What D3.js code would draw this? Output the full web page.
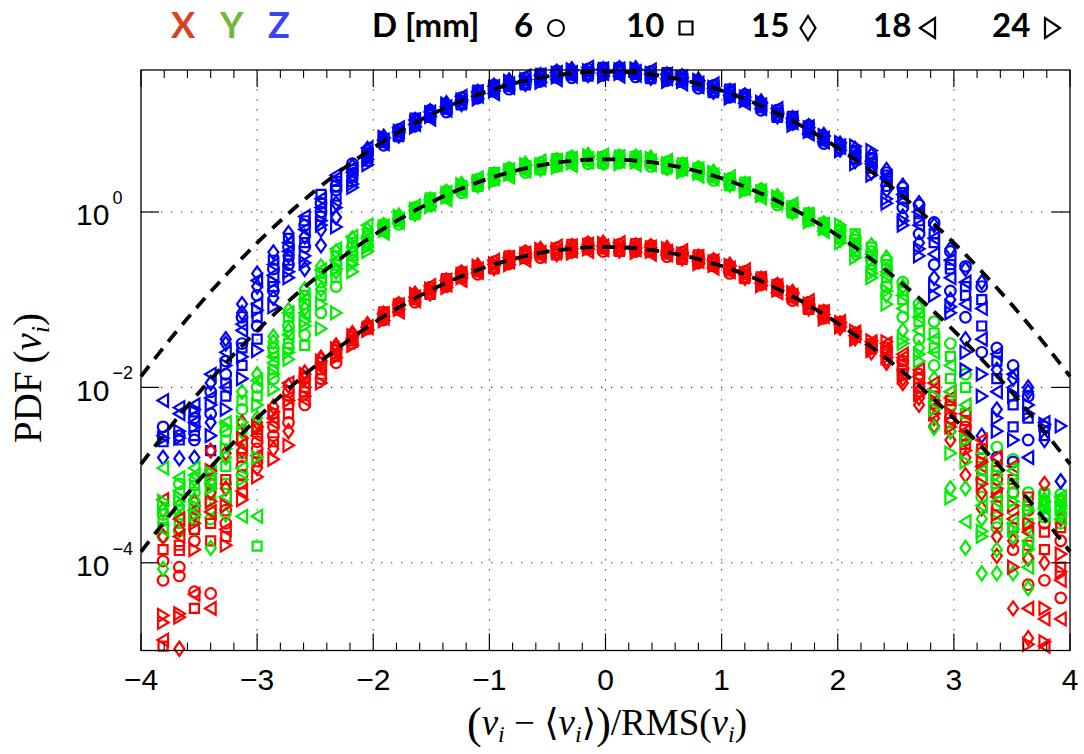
<!DOCTYPE html>
<html><head><meta charset="utf-8">
<script src="https://cdn.jsdelivr.net/npm/d3@7"></script>
<style>
html,body{margin:0;padding:0;background:#fff;}
svg{display:block;}
</style></head><body>
<svg id="chart" width="1084" height="754"></svg>
<script>
// ---------------- DATA ----------------
// normalized velocity (v - <v>)/RMS(v): bin centres
const leftTailBins = [-3.81,-3.67,-3.54,-3.40,-3.27,-3.13,-3.00,-2.86,-2.73,-2.59,-2.45,-2.32,-2.18,-2.05];
const coreBins = [-1.91,-1.78,-1.64,-1.51,-1.37,-1.24,-1.10,-0.96,-0.83,-0.69,-0.56,-0.42,-0.29,-0.15,-0.02,0.12,0.26,0.39,0.53,0.66,0.80,0.93,1.07,1.20,1.34,1.48,1.61,1.75,1.88];
const rightTailBins = [2.02,2.15,2.29,2.42,2.56,2.70,2.83,2.97,3.10,3.24,3.37,3.51,3.64,3.78,3.92];

const components = ["X", "Y", "Z"];
const diameters = [6, 10, 15, 18, 24];          // mm
const componentShift = [1, 10, 100];            // Y and Z curves shifted by one / two decades

// log10 PDF, run A, over all bins (left tail | core | right tail)
const logPdfX_D6  = [-3.98,-4.15,-3.75,-4.35,-3.40,-2.90,-2.70,-2.45,-2.40,-2.20,-1.90,-1.72,-1.50,-1.33, -1.17,-1.10,-0.98,-0.86,-0.79,-0.74,-0.66,-0.57,-0.53,-0.51,-0.47,-0.41,-0.40,-0.41,-0.40,-0.37,-0.39,-0.44,-0.46,-0.46,-0.52,-0.60,-0.65,-0.68,-0.77,-0.88,-0.96,-1.03,-1.15, -1.26,-1.38,-1.50,-1.55,-1.70,-1.85,-2.05,-2.22,-2.45,-2.75,-3.05,-3.20,-3.40,-3.55,-3.75];
const logPdfX_D10 = [-4.95,-3.80,-4.52,-3.55,-3.70,-3.10,-2.85,-2.62,-2.20,-2.05,-1.80,-1.62,-1.45,-1.30, -1.20,-1.07,-1.00,-0.89,-0.82,-0.71,-0.68,-0.60,-0.56,-0.48,-0.49,-0.44,-0.43,-0.38,-0.42,-0.40,-0.42,-0.41,-0.48,-0.49,-0.55,-0.57,-0.67,-0.71,-0.80,-0.85,-0.98,-1.06,-1.18, -1.30,-1.43,-1.56,-1.62,-1.85,-2.05,-2.25,-2.40,-2.65,-2.95,-3.35,-3.60,-3.80,-3.85,-4.05];
const logPdfX_D15 = [-3.40,-4.98,-3.30,-2.72,-2.75,-2.40,-2.40,-2.22,-1.98,-1.83,-1.68,-1.55,-1.40,-1.28, -1.16,-1.09,-0.96,-0.91,-0.78,-0.73,-0.64,-0.62,-0.52,-0.50,-0.45,-0.46,-0.39,-0.40,-0.38,-0.42,-0.38,-0.43,-0.44,-0.51,-0.51,-0.59,-0.63,-0.73,-0.76,-0.87,-0.94,-1.08,-1.14, -1.27,-1.40,-1.52,-1.72,-1.95,-2.20,-2.44,-2.60,-3.00,-3.38,-3.92,-4.52,-4.86,-3.10,-3.30];
const logPdfX_D18 = [-3.28,-3.50,-4.36,-4.52,-3.25,-2.65,-2.55,-2.35,-2.12,-1.95,-1.75,-1.60,-1.44,-1.32, -1.21,-1.06,-0.97,-0.89,-0.83,-0.70,-0.65,-0.60,-0.57,-0.47,-0.46,-0.44,-0.44,-0.37,-0.39,-0.40,-0.43,-0.40,-0.45,-0.49,-0.56,-0.56,-0.64,-0.71,-0.81,-0.84,-0.95,-1.06,-1.19, -1.25,-1.37,-1.48,-1.50,-1.62,-1.80,-1.95,-2.05,-2.30,-2.60,-2.80,-2.90,-4.52,-4.64,-4.64];
const logPdfX_D24 = [-4.60,-4.62,-3.55,-3.30,-3.80,-3.28,-3.02,-2.82,-2.66,-2.10,-1.95,-1.66,-1.52,-1.35, -1.19,-1.11,-0.95,-0.88,-0.81,-0.75,-0.63,-0.59,-0.55,-0.52,-0.44,-0.43,-0.42,-0.42,-0.37,-0.39,-0.41,-0.45,-0.43,-0.48,-0.54,-0.61,-0.62,-0.70,-0.79,-0.89,-0.93,-1.05,-1.17, -1.31,-1.45,-1.58,-1.66,-1.78,-1.95,-2.15,-2.30,-2.55,-2.85,-3.15,-3.35,-3.55,-4.52,-3.90];

const logPdfY_D6  = [-4.45,-4.10,-4.20,-4.05,-3.50,-3.25,-3.00,-2.55,-2.30,-2.05,-1.80,-1.60,-1.40,-1.28, -1.20,-1.09,-0.95,-0.87,-0.82,-0.73,-0.63,-0.58,-0.56,-0.50,-0.44,-0.42,-0.43,-0.40,-0.37,-0.38,-0.42,-0.43,-0.43,-0.47,-0.55,-0.59,-0.62,-0.69,-0.80,-0.87,-0.93,-1.04,-1.18, -1.22,-1.32,-1.45,-1.55,-1.80,-2.05,-2.25,-2.50,-2.85,-3.70,-3.68,-3.82,-4.20,-4.20,-4.22];
const logPdfY_D10 = [-4.60,-4.55,-4.50,-4.30,-3.90,-3.60,-4.81,-2.80,-2.50,-2.52,-1.95,-1.75,-1.50,-1.35, -1.17,-1.11,-0.98,-0.90,-0.79,-0.75,-0.66,-0.61,-0.53,-0.52,-0.47,-0.45,-0.40,-0.42,-0.40,-0.41,-0.39,-0.45,-0.46,-0.50,-0.52,-0.61,-0.65,-0.72,-0.77,-0.89,-0.96,-1.07,-1.15, -1.30,-1.45,-1.60,-1.75,-2.00,-2.25,-2.55,-2.90,-3.30,-4.05,-4.20,-4.10,-4.55,-4.35,-4.40];
const logPdfY_D15 = [-5.07,-4.35,-4.05,-4.83,-4.45,-3.05,-2.85,-2.42,-2.12,-1.88,-1.62,-1.45,-1.30,-1.20, -1.19,-1.07,-1.00,-0.86,-0.81,-0.71,-0.68,-0.57,-0.55,-0.48,-0.49,-0.41,-0.42,-0.38,-0.42,-0.37,-0.41,-0.41,-0.48,-0.46,-0.54,-0.57,-0.67,-0.68,-0.79,-0.85,-0.98,-1.03,-1.17, -1.18,-1.28,-1.38,-1.52,-1.85,-2.10,-3.46,-4.15,-4.83,-5.12,-5.12,-5.12,-5.29,-4.28,-4.30];
const logPdfY_D18 = [-3.92,-4.03,-3.92,-3.95,-3.40,-4.47,-4.47,-2.65,-2.40,-2.15,-1.75,-1.55,-1.45,-1.30, -1.16,-1.08,-0.98,-0.91,-0.78,-0.72,-0.66,-0.62,-0.52,-0.49,-0.47,-0.46,-0.39,-0.39,-0.40,-0.42,-0.38,-0.42,-0.46,-0.51,-0.51,-0.58,-0.65,-0.73,-0.76,-0.86,-0.96,-1.08,-1.14, -1.26,-1.38,-1.52,-1.68,-1.95,-2.20,-2.45,-2.75,-4.53,-4.35,-4.45,-4.55,-4.75,-4.45,-4.50];
const logPdfY_D24 = [-4.35,-4.25,-4.35,-4.15,-3.70,-3.40,-3.20,-3.02,-2.68,-2.30,-2.33,-2.15,-1.68,-1.45, -1.21,-1.06,-0.97,-0.89,-0.83,-0.70,-0.65,-0.60,-0.57,-0.47,-0.46,-0.44,-0.44,-0.37,-0.39,-0.40,-0.43,-0.40,-0.45,-0.49,-0.56,-0.56,-0.64,-0.71,-0.81,-0.84,-0.95,-1.06,-1.19, -1.35,-1.52,-1.75,-2.05,-2.50,-2.70,-3.10,-4.26,-3.60,-4.64,-4.00,-4.30,-4.40,-4.40,-4.35];

const logPdfZ_D6  = [-4.45,-4.55,-4.35,-4.05,-3.70,-3.20,-2.95,-2.65,-2.40,-2.15,-1.90,-1.70,-1.52,-1.33, -1.19,-1.06,-0.96,-0.90,-0.81,-0.70,-0.64,-0.61,-0.55,-0.47,-0.45,-0.45,-0.42,-0.37,-0.38,-0.41,-0.41,-0.40,-0.44,-0.50,-0.54,-0.56,-0.63,-0.72,-0.79,-0.84,-0.94,-1.07,-1.17, -1.24,-1.32,-1.40,-1.55,-1.72,-1.92,-2.12,-2.45,-2.62,-2.85,-3.55,-3.75,-4.10,-4.45,null];
const logPdfZ_D10 = [-4.62,-4.60,-4.55,-4.72,-3.95,-3.55,-3.20,-2.85,-2.55,-2.35,-2.05,-1.82,-1.60,-1.38, -1.21,-1.09,-0.99,-0.87,-0.83,-0.73,-0.67,-0.58,-0.57,-0.50,-0.48,-0.42,-0.44,-0.40,-0.41,-0.38,-0.43,-0.43,-0.47,-0.47,-0.56,-0.59,-0.66,-0.69,-0.81,-0.87,-0.97,-1.04,-1.19, -1.28,-1.40,-1.50,-1.65,-1.85,-2.10,-2.35,-2.65,-2.95,-3.30,-3.90,-4.20,-4.35,-4.55,null];
const logPdfZ_D15 = [-4.80,-4.81,-4.80,-4.40,-3.50,-3.05,-2.70,-2.46,-2.24,-2.65,-2.38,-2.06,-1.48,-1.28, -1.17,-1.11,-0.95,-0.89,-0.79,-0.75,-0.63,-0.60,-0.53,-0.52,-0.44,-0.44,-0.40,-0.42,-0.37,-0.40,-0.39,-0.45,-0.43,-0.49,-0.52,-0.61,-0.62,-0.71,-0.77,-0.89,-0.93,-1.06,-1.15, -1.22,-1.28,-1.35,-1.52,-1.70,-1.90,-2.15,-2.42,-2.65,-2.80,-3.80,-3.90,-4.05,-4.60,-5.07];
const logPdfZ_D18 = [-4.15,-4.23,-4.20,-3.85,-3.60,-3.35,-3.05,-2.72,-2.45,-2.20,-1.85,-1.62,-1.55,-1.35, -1.18,-1.09,-1.00,-0.86,-0.80,-0.73,-0.68,-0.57,-0.54,-0.50,-0.49,-0.41,-0.41,-0.40,-0.42,-0.37,-0.40,-0.43,-0.48,-0.46,-0.53,-0.59,-0.67,-0.68,-0.78,-0.87,-0.98,-1.03,-1.16, -1.26,-1.36,-1.45,-1.60,-1.80,-2.00,-2.30,-2.55,-2.80,-3.10,-4.05,-4.00,-4.80,-4.40,null];
const logPdfZ_D24 = [-4.58,-4.50,-4.45,-4.20,-4.25,-3.90,-3.58,-3.08,-2.75,-2.50,-2.15,-2.17,-1.72,-1.46, -1.16,-1.08,-0.98,-0.91,-0.78,-0.72,-0.66,-0.62,-0.52,-0.49,-0.47,-0.46,-0.39,-0.39,-0.40,-0.42,-0.38,-0.42,-0.46,-0.51,-0.51,-0.58,-0.65,-0.73,-0.76,-0.86,-0.96,-1.08,-1.14, -1.30,-1.45,-1.58,-1.90,-2.15,-2.50,-2.95,-3.15,-3.80,-4.10,-4.50,-4.60,-4.20,-4.42,-4.44];

// log10 PDF, run B, over tail bins only (left tail | right tail)
const tailX_D6  = [-4.20,-4.05,-4.33,-3.10,-3.55,-3.00,-2.62,-2.55,-2.05,-1.88,-1.72,-1.58,-1.42,-1.30, -1.29,-1.42,-1.55,-1.60,-1.80,-2.00,-2.18,-2.35,-2.60,-3.05,-3.55,-3.85,-4.25,-4.20,-4.40];
const tailX_D10 = [-3.85,-3.86,-3.62,-3.75,-3.05,-2.80,-2.48,-2.30,-2.30,-2.00,-1.85,-1.65,-1.47,-1.33, -1.27,-1.39,-1.53,-1.58,-1.74,-1.90,-2.10,-2.15,-2.38,-2.70,-2.95,-3.05,-3.25,-3.65,-3.60];
const tailX_D15 = [-3.70,-3.62,-3.45,-3.20,-3.15,-2.72,-2.92,-2.70,-2.50,-1.90,-1.66,-1.52,-1.38,-1.29, -1.32,-1.44,-1.60,-1.68,-1.90,-2.12,-2.35,-2.50,-2.80,-3.20,-3.70,-3.75,-3.95,-4.00,-3.50];
const tailX_D18 = [-4.88,-3.70,-3.40,-3.42,-3.62,-3.18,-2.78,-2.40,-1.95,-2.14,-1.78,-1.60,-1.46,-1.31, -1.28,-1.41,-1.51,-1.64,-1.66,-1.88,-2.02,-2.12,-2.50,-2.90,-3.25,-3.50,-3.65,-4.95,-4.20];
const tailX_D24 = [-4.68,-4.58,-3.85,-2.95,-3.35,-2.58,-2.45,-2.28,-2.15,-1.85,-1.70,-1.56,-1.41,-1.34, -1.26,-1.36,-1.47,-1.48,-1.88,-2.08,-2.30,-2.45,-2.72,-3.10,-3.45,-4.05,-4.93,-4.90,-4.10];

const tailY_D6  = [-4.70,-4.64,-4.62,-4.50,-4.10,-3.75,-3.45,-2.90,-2.55,-2.40,-2.15,-1.85,-1.55,-1.38, -1.28,-1.40,-1.55,-1.85,-2.20,-2.45,-2.75,-3.20,-3.55,-4.25,-4.60,-4.40,-4.95,-4.48,-4.55];
const tailY_D10 = [-4.52,-4.40,-4.12,-4.22,-3.60,-3.15,-3.10,-2.60,-2.20,-1.95,-1.70,-1.50,-1.35,-1.25, -1.20,-1.25,-1.40,-1.60,-1.90,-2.15,-2.38,-2.65,-3.00,-3.80,-3.90,-4.20,-4.35,-4.22,-4.28];
const tailY_D15 = [-4.40,-4.48,-4.28,-4.40,-3.80,-3.50,-3.35,-2.48,-2.35,-2.10,-1.88,-1.68,-1.46,-1.33, -1.32,-1.48,-1.66,-1.95,-2.35,-2.55,-2.90,-3.50,-4.15,-4.50,-4.85,-4.70,-4.60,-4.32,-4.45];
const tailY_D18 = [-4.62,-4.18,-4.00,-4.10,-4.25,-3.92,-2.92,-2.72,-2.15,-2.00,-1.66,-1.42,-1.28,-1.15, -1.24,-1.35,-1.48,-1.72,-2.10,-2.35,-2.60,-3.05,-3.20,-3.95,-4.30,-3.95,-5.05,-4.38,-4.25];
const tailY_D24 = [-4.30,-4.30,-4.45,-3.98,-3.45,-4.05,-3.80,-2.85,-2.60,-2.25,-2.05,-1.65,-1.60,-1.40, -1.15,-1.42,-1.70,-1.90,-2.45,-2.62,-3.25,-3.75,-3.85,-4.70,-4.10,-4.62,-4.85,-4.30,-4.38];

const tailZ_D6  = [null,null,-4.60,-4.30,-3.85,-3.50,-3.30,-2.90,-2.60,-2.40,-2.00,-1.75,-1.45,-1.30, -1.27,-1.38,-1.48,-1.70,-1.95,-2.25,-2.60,-2.90,-3.20,-3.60,-4.80,-4.85,-4.60,null,null];
const tailZ_D10 = [null,null,-4.28,-4.95,-4.10,-3.75,-3.45,-2.55,-2.30,-2.10,-1.80,-1.65,-1.65,-1.42, -1.23,-1.30,-1.38,-1.58,-1.78,-2.02,-2.25,-2.60,-2.85,-3.00,-3.70,-4.45,null,null,null];
const tailZ_D15 = [null,null,null,-3.95,-3.45,-3.15,-2.85,-2.98,-2.50,-2.28,-2.20,-1.90,-1.58,-1.36, -1.29,-1.42,-1.55,-1.75,-2.05,-2.35,-2.75,-3.00,-3.45,-4.55,-4.25,null,-4.00,null,null];
const tailZ_D18 = [-4.55,-4.30,-4.40,-4.12,-4.00,-3.28,-2.78,-2.60,-2.35,-2.05,-1.95,-1.58,-1.50,-1.27, -1.25,-1.34,-1.42,-1.62,-1.88,-2.15,-2.48,-2.75,-3.05,-3.45,-3.62,-3.85,null,null,null];
const tailZ_D24 = [null,-4.58,-4.25,-4.55,-3.75,-3.65,-3.12,-2.80,-2.68,-2.58,-2.10,-1.95,-1.68,-1.40, -1.21,-1.25,-1.30,-1.85,-2.10,-2.42,-2.85,-3.08,-3.60,-3.85,-4.35,-4.10,-4.30,null,null];

// log10 PDF, run B, over core bins only
const coreX_D6  = [-1.23,-1.04,-1.03,-0.86,-0.85,-0.68,-0.71,-0.57,-0.59,-0.45,-0.52,-0.41,-0.46,-0.35,-0.45,-0.37,-0.45,-0.38,-0.51,-0.46,-0.58,-0.54,-0.70,-0.68,-0.83,-0.82,-1.01,-1.03,-1.21];
const coreX_D10 = [-1.14,-1.12,-0.97,-0.94,-0.76,-0.76,-0.65,-0.65,-0.50,-0.53,-0.46,-0.49,-0.37,-0.43,-0.39,-0.45,-0.36,-0.46,-0.45,-0.54,-0.49,-0.62,-0.64,-0.76,-0.74,-0.90,-0.95,-1.11,-1.12];
const coreX_D15 = [-1.21,-1.05,-0.93,-0.93,-0.83,-0.69,-0.61,-0.64,-0.57,-0.46,-0.42,-0.48,-0.44,-0.36,-0.35,-0.44,-0.43,-0.39,-0.41,-0.53,-0.56,-0.55,-0.60,-0.75,-0.81,-0.83,-0.91,-1.10,-1.19];
const coreX_D18 = [-1.16,-1.14,-1.01,-0.84,-0.78,-0.78,-0.69,-0.55,-0.52,-0.55,-0.50,-0.39,-0.39,-0.45,-0.43,-0.35,-0.38,-0.48,-0.49,-0.44,-0.51,-0.64,-0.68,-0.66,-0.76,-0.92,-0.99,-1.01,-1.14];
const coreX_D24 = [-1.24,-1.07,-0.94,-0.90,-0.86,-0.71,-0.62,-0.61,-0.60,-0.48,-0.43,-0.45,-0.47,-0.38,-0.36,-0.41,-0.46,-0.41,-0.42,-0.50,-0.59,-0.57,-0.61,-0.72,-0.84,-0.85,-0.92,-1.07,-1.22];

const coreY_D6  = [-1.14,-1.14,-0.95,-0.93,-0.76,-0.78,-0.63,-0.64,-0.50,-0.55,-0.44,-0.48,-0.37,-0.45,-0.37,-0.44,-0.36,-0.48,-0.43,-0.53,-0.49,-0.64,-0.62,-0.75,-0.74,-0.92,-0.93,-1.10,-1.12];
const coreY_D10 = [-1.22,-1.08,-1.03,-0.84,-0.84,-0.72,-0.71,-0.55,-0.58,-0.49,-0.52,-0.39,-0.45,-0.39,-0.45,-0.35,-0.44,-0.42,-0.51,-0.44,-0.57,-0.58,-0.70,-0.66,-0.82,-0.86,-1.01,-1.01,-1.20];
const coreY_D15 = [-1.15,-1.04,-1.02,-0.91,-0.77,-0.68,-0.70,-0.62,-0.51,-0.45,-0.51,-0.46,-0.38,-0.35,-0.44,-0.42,-0.37,-0.38,-0.50,-0.51,-0.50,-0.54,-0.69,-0.73,-0.75,-0.82,-1.00,-1.08,-1.13];
const coreY_D18 = [-1.24,-1.12,-0.93,-0.86,-0.86,-0.76,-0.61,-0.57,-0.60,-0.53,-0.42,-0.41,-0.47,-0.43,-0.35,-0.37,-0.46,-0.46,-0.41,-0.46,-0.59,-0.62,-0.60,-0.68,-0.84,-0.90,-0.91,-1.03,-1.22];
const coreY_D24 = [-1.17,-1.05,-0.99,-0.94,-0.79,-0.69,-0.67,-0.65,-0.53,-0.46,-0.48,-0.49,-0.40,-0.36,-0.41,-0.45,-0.39,-0.39,-0.47,-0.54,-0.52,-0.55,-0.66,-0.76,-0.77,-0.83,-0.97,-1.11,-1.15];

const coreZ_D6  = [-1.24,-1.06,-1.02,-0.84,-0.86,-0.70,-0.70,-0.55,-0.60,-0.47,-0.51,-0.39,-0.47,-0.37,-0.44,-0.35,-0.46,-0.40,-0.50,-0.44,-0.59,-0.56,-0.69,-0.66,-0.84,-0.84,-1.00,-1.01,-1.22];
const coreZ_D10 = [-1.18,-1.14,-0.93,-0.92,-0.80,-0.78,-0.61,-0.63,-0.54,-0.55,-0.42,-0.47,-0.41,-0.45,-0.35,-0.43,-0.40,-0.48,-0.41,-0.52,-0.53,-0.64,-0.60,-0.74,-0.78,-0.92,-0.91,-1.09,-1.16];
const coreZ_D15 = [-1.14,-1.13,-1.00,-0.85,-0.76,-0.77,-0.68,-0.56,-0.50,-0.54,-0.49,-0.40,-0.37,-0.44,-0.42,-0.36,-0.36,-0.47,-0.48,-0.45,-0.49,-0.63,-0.67,-0.67,-0.74,-0.91,-0.98,-1.02,-1.12];
const coreZ_D18 = [-1.22,-1.04,-0.95,-0.94,-0.84,-0.68,-0.63,-0.65,-0.58,-0.45,-0.44,-0.49,-0.45,-0.35,-0.37,-0.45,-0.44,-0.38,-0.43,-0.54,-0.57,-0.54,-0.62,-0.76,-0.82,-0.82,-0.93,-1.11,-1.20];
const coreZ_D24 = [-1.15,-1.10,-1.03,-0.87,-0.77,-0.74,-0.71,-0.58,-0.51,-0.51,-0.52,-0.42,-0.38,-0.41,-0.45,-0.38,-0.37,-0.44,-0.51,-0.47,-0.50,-0.60,-0.70,-0.69,-0.75,-0.88,-1.01,-1.04,-1.13];

// Gaussian reference (standard normal PDF), log10 values
const gaussX = [-4,-3.75,-3.5,-3.25,-3,-2.75,-2.5,-2.25,-2,-1.75,-1.5,-1.25,-1,-0.75,-0.5,-0.25,0,0.25,0.5,0.75,1,1.25,1.5,1.75,2,2.25,2.5,2.75,3,3.25,3.5,3.75,4];
const gaussLog10 = [-3.874,-3.453,-3.059,-2.693,-2.353,-2.041,-1.756,-1.499,-1.268,-1.064,-0.888,-0.738,-0.616,-0.521,-0.453,-0.413,-0.399,-0.413,-0.453,-0.521,-0.616,-0.738,-0.888,-1.064,-1.268,-1.499,-1.756,-2.041,-2.353,-2.693,-3.059,-3.453,-3.874];

const xTickValues = [-4,-3,-2,-1,0,1,2,3,4];
const xTickLabels = ["\u22124","\u22123","\u22122","\u22121","0","1","2","3","4"];
const yTickValues = [1e-4, 1e-2, 1];
const yTickExponents = ["\u22124","\u22122","0"];

// ---------------- DRAWING ----------------
const binCenters = leftTailBins.concat(coreBins, rightTailBins);
const tailBinCenters = leftTailBins.concat(rightTailBins);
const runA = [
  [logPdfX_D6, logPdfX_D10, logPdfX_D15, logPdfX_D18, logPdfX_D24],
  [logPdfY_D6, logPdfY_D10, logPdfY_D15, logPdfY_D18, logPdfY_D24],
  [logPdfZ_D6, logPdfZ_D10, logPdfZ_D15, logPdfZ_D18, logPdfZ_D24]];
const runBtail = [
  [tailX_D6, tailX_D10, tailX_D15, tailX_D18, tailX_D24],
  [tailY_D6, tailY_D10, tailY_D15, tailY_D18, tailY_D24],
  [tailZ_D6, tailZ_D10, tailZ_D15, tailZ_D18, tailZ_D24]];
const runBcore = [
  [coreX_D6, coreX_D10, coreX_D15, coreX_D18, coreX_D24],
  [coreY_D6, coreY_D10, coreY_D15, coreY_D18, coreY_D24],
  [coreZ_D6, coreZ_D10, coreZ_D15, coreZ_D18, coreZ_D24]];

const colors = ["#ff0000", "#00ee00", "#0000ff"];
const legendColors = ["#d6431c", "#6fb83a", "#3a43f5"];
const markerPath = {
  6: "M5.3,0A5.3,5.3 0 1,1 -5.3,0A5.3,5.3 0 1,1 5.3,0Z",
  10: "M-4.5,-4.5H4.5V4.5H-4.5Z",
  15: "M0,-7L5,0L0,7L-5,0Z",
  18: "M-5.6,0L5,-6.4L5,6.4Z",
  24: "M5.6,0L-5,-6.4L-5,6.4Z"
};

const L = 141, R = 1070, T = 70, B = 650.5;
const x = d3.scaleLinear().domain([-4, 4]).range([L, R]);
const y = d3.scaleLog().domain([1e-5, 41.6]).range([B, T]);

const svg = d3.select("#chart");
svg.append("rect").attr("width",1084).attr("height",754).attr("fill","#fff");

// grid
const grid = svg.append("g").attr("stroke","#333").attr("stroke-width",1.1).attr("stroke-dasharray","1.3,8.7");
grid.selectAll("line.gx").data(xTickValues.slice(1,-1)).join("line").attr("class","gx")
  .attr("x1",d=>x(d)).attr("x2",d=>x(d)).attr("y1",B).attr("y2",T);
grid.selectAll("line.gy").data(yTickValues).join("line").attr("class","gy")
  .attr("x1",L).attr("x2",R).attr("y1",d=>y(d)).attr("y2",d=>y(d));

// points
const pts = [];
function addPoints(values, bins, ci, dm) {
  values.forEach((v, i) => { if (v !== null) pts.push({u: bins[i], p: Math.pow(10, v) * componentShift[ci], ci, dm}); });
}
components.forEach((c, ci) => {
  diameters.forEach((dm, di) => {
    addPoints(runA[ci][di], binCenters, ci, dm);
    addPoints(runBtail[ci][di], tailBinCenters, ci, dm);
    addPoints(runBcore[ci][di], coreBins, ci, dm);
  });
});
pts.sort((a, b) => (diameters.indexOf(a.dm) - diameters.indexOf(b.dm)) || (a.ci - b.ci));
svg.append("g").selectAll("path").data(pts).join("path")
  .attr("transform", d => `translate(${x(d.u).toFixed(2)},${y(d.p).toFixed(2)})`)
  .attr("d", d => markerPath[d.dm])
  .attr("fill","none").attr("stroke", d => colors[d.ci]).attr("stroke-width",2.2);

// Gaussian dashed curves
const gaussLine = d3.line().x(d => x(d.u)).y(d => y(d.p)).curve(d3.curveNatural);
componentShift.forEach(s => {
  const data = gaussX.map((u, i) => ({u, p: Math.pow(10, gaussLog10[i]) * s}));
  svg.append("path").attr("d", gaussLine(data)).attr("fill","none")
    .attr("stroke","#000").attr("stroke-width",3.8).attr("stroke-dasharray","13,9");
});

// frame & ticks
const ax = svg.append("g").attr("stroke","#000");
ax.append("rect").attr("x",L).attr("y",T).attr("width",R-L).attr("height",B-T).attr("fill","none").attr("stroke-width",1.3);
const minorX = d3.range(-40, 41, 2).map(v => v/10).filter(v => !xTickValues.includes(v));
[B, T].forEach((yy, k) => {
  const dir = k === 0 ? -1 : 1;
  ax.selectAll(null).data(xTickValues).join("line").attr("x1",d=>x(d)).attr("x2",d=>x(d)).attr("y1",yy).attr("y2",yy+dir*17).attr("stroke-width",1.2);
  ax.selectAll(null).data(minorX).join("line").attr("x1",d=>x(d)).attr("x2",d=>x(d)).attr("y1",yy).attr("y2",yy+dir*8).attr("stroke-width",1.1);
});
[L, R].forEach((xx, k) => {
  const dir = k === 0 ? 1 : -1;
  ax.selectAll(null).data(yTickValues).join("line").attr("x1",xx).attr("x2",xx+dir*18).attr("y1",d=>y(d)).attr("y2",d=>y(d)).attr("stroke-width",1.2);
});

// tick labels
svg.append("g").selectAll("text").data(xTickValues).join("text")
  .attr("x", d => x(d)).attr("y", 690).attr("text-anchor","middle")
  .attr("font-family","'Liberation Sans', Arial, sans-serif").attr("font-size",30)
  .text((d, i) => xTickLabels[i]);
const yl = svg.append("g").attr("font-family","'Liberation Sans', Arial, sans-serif");
yTickValues.forEach((v, i) => {
  const t = yl.append("text").attr("x", 76).attr("y", y(v) + 13.5).attr("font-size", 30);
  t.append("tspan").text("10");
  t.append("tspan").attr("font-size", 18).attr("dx", 3).attr("dy", -21.5).text(yTickExponents[i]);
});

// axis titles
const serif = "'Liberation Serif', 'DejaVu Serif', serif";
const xt = svg.append("text").attr("x", 607).attr("y", 735).attr("text-anchor","middle")
  .attr("font-family", serif).attr("font-size", 37);
xt.append("tspan").attr("font-size", 44).attr("dy", 3).text("(");
xt.append("tspan").attr("font-style","italic").attr("dy", -3).text("v");
xt.append("tspan").attr("font-style","italic").attr("font-size", 24).attr("dy", 7).text("i");
xt.append("tspan").attr("dy", -7).text(" \u2212 \u27E8");
xt.append("tspan").attr("font-style","italic").text("v");
xt.append("tspan").attr("font-style","italic").attr("font-size", 24).attr("dy", 7).text("i");
xt.append("tspan").attr("dy", -7).text("\u27E9");
xt.append("tspan").attr("font-size", 44).attr("dy", 3).text(")");
xt.append("tspan").attr("dy", -3).text("/RMS(");
xt.append("tspan").attr("font-style","italic").text("v");
xt.append("tspan").attr("font-style","italic").attr("font-size", 24).attr("dy", 7).text("i");
xt.append("tspan").attr("dy", -7).text(")");

const ytl = svg.append("text").attr("transform","translate(41,378) rotate(-90)").attr("text-anchor","middle")
  .attr("font-family", serif).attr("font-size", 39);
ytl.append("tspan").text("PDF\u2009(");
ytl.append("tspan").attr("font-style","italic").text("v");
ytl.append("tspan").attr("font-style","italic").attr("font-size", 26).attr("dy", 8).text("i");
ytl.append("tspan").attr("dy", -8).text(")");

// legend
const lg = svg.append("g").attr("font-family","Lato, 'DejaVu Sans', sans-serif").attr("font-weight","bold");
const compX = [171, 220, 268];
components.forEach((c, i) => {
  lg.append("text").attr("x", compX[i]).attr("y", 38).attr("font-size", 36).attr("fill", legendColors[i]).text(c);
});
lg.append("text").attr("x", 372).attr("y", 37).attr("font-size", 33).text("D [mm]");
const legNumX = [514, 626, 751, 873, 992];
const legMarkX = [556, 686, 808, 928, 1052];
const legendMarker = {
  6: "M8,0A8,8 0 1,1 -8,0A8,8 0 1,1 8,0Z",
  10: "M-6.5,-6.5H6.5V6.5H-6.5Z",
  15: "M0,-12L7.5,0L0,12L-7.5,0Z",
  18: "M-8,0L7,-10L7,10Z",
  24: "M8,0L-7,-10L-7,10Z"
};
diameters.forEach((dm, i) => {
  lg.append("text").attr("x", legNumX[i]).attr("y", 37).attr("font-size", 33).text(dm);
  lg.append("path").attr("d", legendMarker[dm]).attr("transform", `translate(${legMarkX[i]},28)`)
    .attr("fill","none").attr("stroke","#000").attr("stroke-width",2.2);
});
</script></body></html>
